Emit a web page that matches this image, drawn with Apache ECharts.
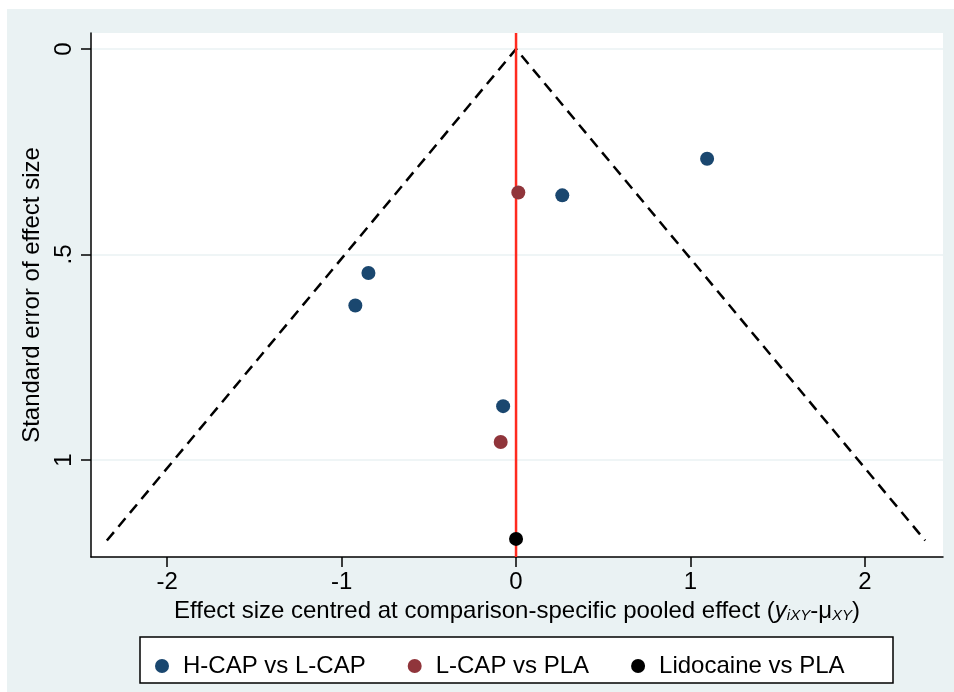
<!DOCTYPE html>
<html>
<head>
<meta charset="utf-8">
<script src="https://cdn.jsdelivr.net/npm/echarts@6/dist/echarts.min.js"></script>
<style>
html, body { margin: 0; padding: 0; background: #fff; }
#chart { width: 954px; height: 692px; }
</style>
</head>
<body>
<div id="chart"></div>
<script>
// effect size (x) and standard error (y) per comparison
var hcapX = [1.095, 0.265, -0.846, -0.921, -0.074];
var hcapY = [0.267, 0.356, 0.545, 0.624, 0.869];
var lcapX = [0.013, -0.088];
var lcapY = [0.349, 0.956];
var lidoX = [0.0];
var lidoY = [1.192];
// pseudo 95% limits of the funnel
var funnelX = [-2.345, 0, 2.345];
var funnelY = [1.196, 0, 1.196];
var xTicks = [-2, -1, 0, 1, 2];
var yTicks = [0, 0.5, 1];
var yMin = -0.039, yMax = 1.236;

function pairs(xs, ys) {
	return xs.map(function (x, i) { return [x, ys[i]]; });
}

var font = 'Liberation Sans, Arial, sans-serif';
var myChart = echarts.init(document.getElementById('chart'));
var option = {
	backgroundColor: '#ffffff',
	animation: false,
	textStyle: { fontFamily: font },
	graphic: [
		{ type: 'rect', z: -10, shape: { x: 7, y: 9, width: 947, height: 683 }, style: { fill: '#eaf2f3' } },
		{ type: 'rect', z: 1, shape: { x: 140, y: 637, width: 753, height: 46 }, style: { fill: '#ffffff', stroke: '#000', lineWidth: 1.5 } }
	],
	grid: {
		left: 91, top: 33, right: 11, bottom: 135,
		show: true, backgroundColor: '#ffffff', borderWidth: 0
	},
	legend: {
		left: 150, top: 649, itemWidth: 14, itemHeight: 14, itemGap: 42,
		icon: 'circle', z: 5,
		textStyle: { fontSize: 24, color: '#000', fontFamily: font, padding: [0, 0, 0, 9] },
		data: ['H-CAP vs L-CAP', 'L-CAP vs PLA', 'Lidocaine vs PLA']
	},
	xAxis: {
		type: 'value', min: -2.436, max: 2.447,
		name: 'Effect size centred at comparison-specific pooled effect ({it|y}{sub|iXY}-μ{sub|XY})',
		nameLocation: 'middle', nameGap: 40,
		nameTextStyle: {
			fontSize: 24, color: '#000', fontFamily: font,
			rich: {
				it: { fontSize: 24, fontStyle: 'italic', color: '#000', fontFamily: font },
				sub: { fontSize: 15, fontStyle: 'italic', color: '#000', fontFamily: font, verticalAlign: 'bottom', padding: [9, 0, 0, 0] }
			}
		},
		axisLine: { show: true, onZero: false, lineStyle: { color: '#000', width: 1.5 } },
		axisTick: { show: true, length: 10, customValues: xTicks, lineStyle: { color: '#000', width: 1.5 } },
		axisLabel: { customValues: xTicks, fontSize: 24, color: '#000', margin: 13, fontFamily: font },
		splitLine: { show: false }
	},
	yAxis: {
		type: 'value', inverse: true, min: yMin, max: yMax,
		name: 'Standard error of effect size',
		nameLocation: 'middle', nameGap: 44,
		nameTextStyle: { fontSize: 24, color: '#000', fontFamily: font },
		axisLine: { show: true, onZero: false, lineStyle: { color: '#000', width: 1.5 } },
		axisTick: { show: true, length: 10, customValues: yTicks, lineStyle: { color: '#000', width: 1.5 } },
		axisLabel: {
			customValues: yTicks, rotate: 90, fontSize: 24, color: '#000', margin: 15, fontFamily: font,
			formatter: function (v) { return v === 0.5 ? '.5' : String(v); }
		},
		splitLine: { show: true, lineStyle: { color: '#eaf2f3', width: 1.5 } }
	},
	series: [
		{
			name: 'funnel', type: 'line', data: pairs(funnelX, funnelY), symbol: 'none',
			lineStyle: { color: '#000', width: 2.5, type: [11, 7] }, silent: true, z: 3
		},
		{
			name: 'pooled', type: 'line', data: [[0, yMin], [0, yMax]], symbol: 'none',
			lineStyle: { color: '#ff2a1f', width: 2.5 }, silent: true, z: 3
		},
		{
			name: 'H-CAP vs L-CAP', type: 'scatter', data: pairs(hcapX, hcapY),
			symbolSize: 14, itemStyle: { color: '#1a476f', opacity: 1 }, z: 4
		},
		{
			name: 'L-CAP vs PLA', type: 'scatter', data: pairs(lcapX, lcapY),
			symbolSize: 14, itemStyle: { color: '#90353b', opacity: 1 }, z: 4
		},
		{
			name: 'Lidocaine vs PLA', type: 'scatter', data: pairs(lidoX, lidoY),
			symbolSize: 14, itemStyle: { color: '#000', opacity: 1 }, z: 4
		}
	]
};
myChart.setOption(option);
</script>
</body>
</html>
